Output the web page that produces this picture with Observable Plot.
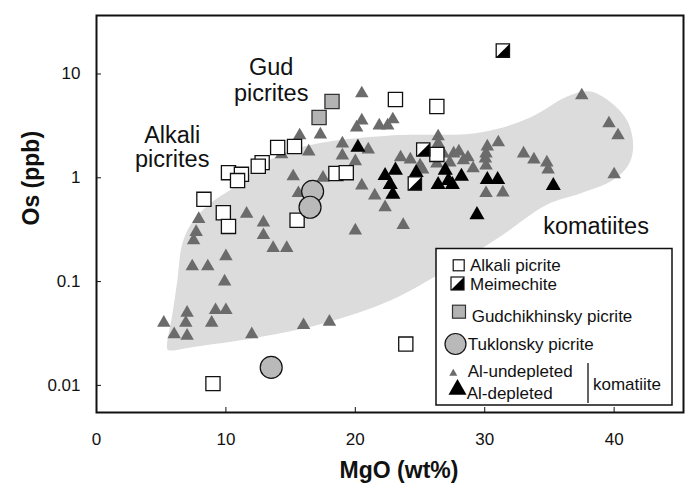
<!DOCTYPE html>
<html><head><meta charset="utf-8">
<script src="https://cdn.jsdelivr.net/npm/d3@7"></script>
<script src="https://cdn.jsdelivr.net/npm/@observablehq/plot@0.6"></script>
<style>
html,body{margin:0;padding:0;background:#fff;}
#chart{width:689px;height:488px;}
</style></head><body><div id="chart"></div>
<script>
// ---- data: [MgO wt%, Os ppb] ----
const alkaliPicrite = [[8.3,0.62],[9.8,0.46],[10.2,0.34],[15.5,0.39],[10.2,1.12],[11.2,1.08],[10.9,0.94],[12.8,1.40],[12.5,1.29],[14.0,1.96],[15.3,2.0],[18.5,1.10],[19.3,1.12],[23.1,5.68],[26.3,4.86],[26.3,1.68],[9.0,0.0104],[23.9,0.025]];
const meimechite = [[31.4,16.8],[25.25,1.87],[24.6,0.88]];
const gudchikhinsky = [[18.2,5.43],[17.2,3.81]];
const tuklonsky = [[16.7,0.74],[16.5,0.52],[13.5,0.0149]];
const alDepleted = [[20.2,1.96],[22.3,1.05],[23.1,1.18],[22.7,0.86],[22.9,0.69],[24.7,1.12],[26.95,1.18],[26.4,0.86],[27.5,0.86],[28.2,1.03],[27.2,0.94],[30.2,0.96],[31.0,0.96],[29.4,0.44],[35.3,0.84]];
const alUndepleted = [[5.2,0.040],[6.0,0.031],[7.0,0.030],[7.0,0.050],[6.9,0.040],[9.2,0.053],[10.0,0.053],[8.9,0.040],[12.0,0.031],[16.0,0.038],[18.0,0.041],[7.4,0.14],[8.6,0.14],[9.9,0.10],[10.0,0.175],[7.9,0.40],[7.7,0.30],[7.5,0.25],[11.6,0.45],[12.9,0.37],[12.9,0.28],[13.65,0.21],[14.7,0.21],[15.2,1.03],[17.5,1.0],[15.6,0.71],[20.0,0.31],[20.5,0.84],[21.5,0.675],[22.3,0.52],[15.7,2.56],[17.3,2.61],[16.4,1.79],[14.3,1.68],[19.0,2.14],[19.0,1.64],[20.0,1.44],[21.0,1.87],[20.5,6.49],[20.5,3.56],[20.1,3.05],[21.85,3.19],[22.5,3.19],[22.9,3.65],[23.7,0.35],[23.5,1.57],[24.25,1.50],[25.0,1.31],[25.2,1.20],[26.4,2.50],[26.4,2.14],[26.3,1.37],[26.8,1.71],[27.3,1.40],[27.6,1.71],[28.0,1.79],[28.35,1.47],[28.7,1.57],[29.1,1.23],[30.2,2.0],[31.05,2.19],[30.05,1.53],[30.1,1.31],[30.1,0.71],[31.4,0.72],[33.0,1.71],[33.8,1.50],[34.8,1.40],[34.9,1.20],[37.5,6.21],[39.6,3.34],[40.3,2.56],[40.0,1.076],[30.1,1.71]];
// komatiite field outline
const komatiiteField = [[5.48,0.0222],[5.87,0.0493],[6.25,0.1025],[6.56,0.213],[7.10,0.325],[8.03,0.463],[9.19,0.618],[10.73,0.824],[12.43,1.256],[14.98,1.83],[17.53,2.19],[22.70,2.556],[29.65,2.73],[33.51,3.81],[36.37,6.07],[38.15,6.78],[39.85,5.20],[41.08,3.41],[41.47,1.96],[41.08,1.314],[39.85,0.942],[37.37,0.706],[34.83,0.553],[30.97,0.260],[26.56,0.1197],[22.70,0.0658],[17.53,0.0395],[12.43,0.0289],[7.26,0.0232],[5.71,0.0217]];
// annotation lines (baseline positions in data units)
const annotations = [
  {text: "Alkali", mgo: 5.85, os: 2.18},
  {text: "picrites", mgo: 5.85, os: 1.265},
  {text: "Gud", mgo: 13.5, os: 9.8},
  {text: "picrites", mgo: 13.5, os: 5.5},
  {text: "komatiites", mgo: 38.6, os: 0.29}
];
const xTicks = [0, 10, 20, 30, 40];
const yTicks = [0.01, 0.1, 1, 10];
const xLabel = "MgO (wt%)";
const yLabel = "Os (ppb)";
const legendItems = [
  {label: "Alkali picrite", kind: "alkali"},
  {label: "Meimechite", kind: "meimechite"},
  {label: "Gudchikhinsky picrite", kind: "gud"},
  {label: "Tuklonsky picrite", kind: "tuklonsky"},
  {label: "Al-undepleted", kind: "undepleted"},
  {label: "Al-depleted", kind: "depleted"}
];
const legendGroupLabel = "komatiite";

// ---- styles ----
const FONT = "'Liberation Sans', Arial, Helvetica, sans-serif";
const C = {field: "#dcdcdc", gray: "#6b6b6b", gud: "#b3b3b3", tuk: "#b9b9b9", ink: "#111"};
const W = 689, H = 488, mL = 96, mR = 6, mT = 15, mB = 76;
const fw = W - mL - mR, fh = H - mT - mB;

const halfBlack = {
  draw(ctx, size) {
    const s = Math.sqrt(size) / 2;
    ctx.moveTo(s, -s); ctx.lineTo(s, s); ctx.lineTo(-s, s); ctx.closePath();
  }
};
const X = d => d[0], Y = d => d[1];

const svg = Plot.plot({
  width: W, height: H,
  marginLeft: mL, marginRight: mR, marginTop: mT, marginBottom: mB,
  style: {fontFamily: FONT, fontSize: "17px", background: "white", color: "#111"},
  x: {domain: [0, 45.36]},
  y: {type: "log", domain: [0.00548, 36.6]},
  marks: [
    Plot.line(komatiiteField, {x: X, y: Y, curve: "catmull-rom-closed", fill: C.field, stroke: "none"}),
    Plot.dot(alUndepleted, {x: X, y: Y, symbol: "triangle", r: 5, fill: C.gray, stroke: "none"}),
    Plot.dot(alDepleted, {x: X, y: Y, symbol: "triangle", r: 5.6, fill: "#000", stroke: "none"}),
    Plot.dot(alkaliPicrite, {x: X, y: Y, symbol: "square", r: 8, fill: "white", stroke: C.ink, strokeWidth: 1.3}),
    Plot.dot(gudchikhinsky, {x: X, y: Y, symbol: "square", r: 8, fill: C.gud, stroke: "#333", strokeWidth: 1.3}),
    Plot.dot(meimechite, {x: X, y: Y, symbol: "square", r: 7.5, fill: "white", stroke: "none"}),
    Plot.dot(meimechite, {x: X, y: Y, symbol: halfBlack, r: 7.5, fill: "#000", stroke: "none"}),
    Plot.dot(meimechite, {x: X, y: Y, symbol: "square", r: 7.5, fill: "none", stroke: C.ink, strokeWidth: 1.3}),
    Plot.dot(tuklonsky, {x: X, y: Y, r: 11, fill: C.tuk, stroke: C.ink, strokeWidth: 1.2}),
    Plot.text(annotations, {x: "mgo", y: "os", text: "text", fontSize: 23.5, lineAnchor: "bottom", textAnchor: "middle", fill: "#111"}),
    Plot.tickX(xTicks.filter(d => d > 0), {x: d => d, insetTop: fh - 5, stroke: C.ink}),
    Plot.tickY(yTicks, {y: d => d, insetRight: fw - 5, stroke: C.ink}),
    Plot.axisX(xTicks, {tickSize: 0, tickPadding: 20, fontSize: 17, label: null}),
    Plot.axisY(yTicks, {tickSize: 0, tickPadding: 16, fontSize: 17, label: null, tickFormat: d => String(d)}),
    Plot.frame({stroke: C.ink, strokeWidth: 2}),
    Plot.text([xLabel], {frameAnchor: "bottom", text: d => d, dx: 9, dy: 58, fontSize: 23, fontWeight: "bold", lineAnchor: "middle"}),
    Plot.text([yLabel], {frameAnchor: "left", text: d => d, rotate: -90, dx: -64.5, dy: 11.5, fontSize: 23, fontWeight: "bold", lineAnchor: "middle"})
  ]
});

// ---- legend (inside plot, lower right) ----
const lg = d3.select(svg).append("g")
  .attr("font-family", FONT).attr("font-size", 17).attr("fill", "#111").attr("text-anchor", "start");
lg.append("rect").attr("x", 436).attr("y", 248.5).attr("width", 236).attr("height", 156.5)
  .attr("fill", "white").attr("stroke", C.ink).attr("stroke-width", 1.5);
const rowText = [[470, 270.7], [470, 290], [471.7, 321.7], [467.7, 350], [467.7, 377.3], [466.7, 399.3]];
const rowSym = [[458.7, 265.3], [457.5, 283.5], [459, 311.7], [455.5, 344], [453.3, 373.5], [457.5, 389.5]];
legendItems.forEach((item, i) => {
  const [sx, sy] = rowSym[i];
  const g = lg.append("g").attr("transform", `translate(${sx},${sy})`);
  if (item.kind === "alkali") {
    g.append("rect").attr("x", -5.5).attr("y", -5.5).attr("width", 11).attr("height", 11).attr("fill", "white").attr("stroke", C.ink).attr("stroke-width", 1.2);
  } else if (item.kind === "meimechite") {
    g.append("rect").attr("x", -6.5).attr("y", -6.5).attr("width", 13).attr("height", 13).attr("fill", "white");
    g.append("path").attr("d", "M6.5,-6.5L6.5,6.5L-6.5,6.5Z").attr("fill", "#000");
    g.append("rect").attr("x", -6.5).attr("y", -6.5).attr("width", 13).attr("height", 13).attr("fill", "none").attr("stroke", C.ink).attr("stroke-width", 1.2);
  } else if (item.kind === "gud") {
    g.append("rect").attr("x", -6.5).attr("y", -6.5).attr("width", 13).attr("height", 13).attr("fill", C.gud).attr("stroke", "#333").attr("stroke-width", 1.2);
  } else if (item.kind === "tuklonsky") {
    g.append("circle").attr("r", 10.5).attr("fill", C.tuk).attr("stroke", C.ink).attr("stroke-width", 1.2);
  } else if (item.kind === "undepleted") {
    g.append("path").attr("d", d3.symbol(d3.symbolTriangle, 28)()).attr("fill", C.gray);
  } else if (item.kind === "depleted") {
    g.append("path").attr("d", d3.symbol(d3.symbolTriangle, 141)()).attr("fill", "#000");
  }
  lg.append("text").attr("x", rowText[i][0]).attr("y", rowText[i][1]).attr("text-anchor", "start").text(item.label);
});
lg.append("line").attr("x1", 588).attr("x2", 588).attr("y1", 363).attr("y2", 403).attr("stroke", C.ink).attr("stroke-width", 1.3);
lg.append("text").attr("x", 593).attr("y", 390).attr("text-anchor", "start").text(legendGroupLabel);

document.getElementById("chart").appendChild(svg);
</script>
</body></html>
